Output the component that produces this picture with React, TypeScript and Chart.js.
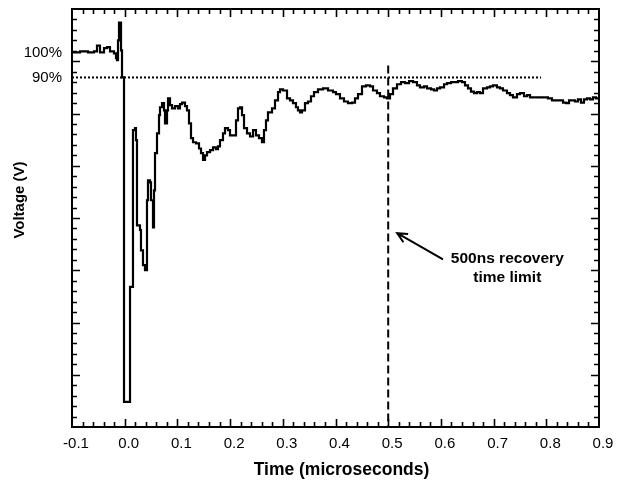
import React, { useEffect, useRef } from "react";
import { Chart, registerables } from "chart.js";

Chart.register(...registerables);

// Sampled transient response (time in microseconds, voltage in volts)
const timeUs = [
  -0.1, -0.0848, -0.0696, -0.0583, -0.0526, -0.0469, -0.0393, -0.0336, -0.0279, -0.0203,
  -0.0165, -0.0146, -0.0127, -0.0108, -0.007, -0.0051, -0.0013, 0.0101, 0.0157, 0.0195,
  0.0214, 0.0233, 0.029, 0.0309, 0.0347, 0.0385, 0.0423, 0.0442, 0.048, 0.0499,
  0.0537, 0.0556, 0.0575, 0.0613, 0.0651, 0.067, 0.0708, 0.0746, 0.0765, 0.0803,
  0.0822, 0.086, 0.0898, 0.0954, 0.1011, 0.1049, 0.1087, 0.1144, 0.1182, 0.122,
  0.1258, 0.1296, 0.1353, 0.141, 0.1448, 0.1486, 0.1524, 0.1562, 0.1619, 0.1676,
  0.1732, 0.177, 0.1808, 0.1865, 0.1903, 0.196, 0.1998, 0.2055, 0.2112, 0.215,
  0.2188, 0.2226, 0.2264, 0.2321, 0.2378, 0.2435, 0.2491, 0.2548, 0.2605, 0.2643,
  0.2681, 0.2719, 0.2795, 0.2852, 0.2909, 0.2947, 0.3004, 0.308, 0.3137, 0.3193,
  0.325, 0.3288, 0.3326, 0.3364, 0.3421, 0.3478, 0.3535, 0.3592, 0.3668, 0.3763,
  0.3858, 0.3953, 0.4009, 0.4085, 0.4161, 0.4237, 0.4313, 0.437, 0.4427, 0.4503,
  0.4579, 0.4655, 0.4712, 0.4787, 0.4844, 0.492, 0.4977, 0.5034, 0.5091, 0.5167,
  0.5243, 0.5319, 0.5395, 0.5471, 0.5546, 0.5603, 0.5679, 0.5736, 0.5812, 0.5869,
  0.5926, 0.5983, 0.6059, 0.6116, 0.6192, 0.6267, 0.6324, 0.64, 0.6457, 0.6514,
  0.6571, 0.6628, 0.6685, 0.6742, 0.6799, 0.6875, 0.6931, 0.6988, 0.7064, 0.7121,
  0.7178, 0.7254, 0.7311, 0.7368, 0.7444, 0.7501, 0.7577, 0.7634, 0.7691, 0.7785,
  0.788, 0.7975, 0.8032, 0.8108, 0.8184, 0.826, 0.8317, 0.8374, 0.8431, 0.8488,
  0.8545, 0.8601, 0.8658, 0.8715, 0.8772, 0.8829, 0.8886, 0.8943, 0.9,
];

const voltage = [
  7.17, 7.19, 7.17, 7.19, 7.3, 7.17, 7.25, 7.27, 7.19, 7.15,
  7.06, 7.02, 7.4, 7.74, 7.21, 6.69, 0.48, 2.68, 5.68, 5.72,
  5.49, 3.86, 3.77, 3.38, 3.1, 3.0, 4.34, 4.72, 4.68, 4.34,
  3.82, 4.53, 5.24, 5.62, 5.97, 6.12, 6.2, 6.06, 5.81, 6.06,
  6.29, 6.16, 6.1, 6.14, 6.1, 6.18, 6.21, 6.14, 6.06, 5.81,
  5.53, 5.45, 5.43, 5.33, 5.24, 5.11, 5.2, 5.26, 5.3, 5.35,
  5.32, 5.37, 5.49, 5.62, 5.72, 5.68, 5.58, 5.58, 5.87, 6.1,
  6.12, 5.97, 5.72, 5.62, 5.56, 5.68, 5.58, 5.53, 5.45, 5.68,
  5.87, 6.02, 6.1, 6.25, 6.41, 6.46, 6.44, 6.29, 6.25, 6.2,
  6.12, 6.06, 6.02, 6.06, 6.2, 6.23, 6.33, 6.41, 6.46, 6.48,
  6.44, 6.41, 6.37, 6.29, 6.23, 6.2, 6.21, 6.29, 6.37, 6.52,
  6.54, 6.52, 6.44, 6.39, 6.33, 6.31, 6.29, 6.37, 6.48, 6.56,
  6.6, 6.58, 6.62, 6.6, 6.54, 6.5, 6.52, 6.48, 6.46, 6.44,
  6.48, 6.5, 6.56, 6.58, 6.6, 6.6, 6.62, 6.6, 6.54, 6.48,
  6.42, 6.39, 6.41, 6.39, 6.48, 6.5, 6.52, 6.54, 6.5, 6.48,
  6.44, 6.39, 6.35, 6.31, 6.37, 6.39, 6.33, 6.35, 6.31, 6.31,
  6.31, 6.31, 6.29, 6.25, 6.25, 6.25, 6.21, 6.2, 6.25, 6.25,
  6.23, 6.27, 6.21, 6.27, 6.29, 6.27, 6.31, 6.29, 6.31,
];

// Axis ticks
const xTickValues = [-0.1, 0.0, 0.1, 0.2, 0.3, 0.4, 0.5, 0.6, 0.7, 0.8, 0.9];
const levelValues = [6.69, 7.17];
const levelLabels = ["90%", "100%"];

// Reference lines and annotation
const LEVEL_90 = 6.69;
const thresholdEndUs = 0.79;
const recoveryLimitUs = 0.5;
const recoveryLineTopV = 6.92;
const arrowTail = { x: 0.604, y: 3.21 };
const arrowHead = { x: 0.517, y: 3.71 };
const noteAnchor = { x: 0.726, y: 3.23 };
const noteLines = ["500ns recovery", "time limit"];

const FONT = "'Liberation Sans', Arial, Helvetica, sans-serif";

const framePlugin = {
  id: "frameAndNotes",
  afterDraw(chart: any) {
    const { ctx, chartArea } = chart;
    const { left, right, top, bottom } = chartArea;
    const xs = chart.scales.x;
    const ys = chart.scales.y;
    ctx.save();
    ctx.strokeStyle = "#000";
    ctx.fillStyle = "#000";

    // Box
    ctx.lineWidth = 2;
    ctx.strokeRect(left, top, right - left, bottom - top);

    // Inward tick marks on all four sides
    ctx.lineWidth = 1.6;
    ctx.beginPath();
    for (let i = 1; i < 50; i++) {
      const px = Math.round(xs.getPixelForValue(-0.1 + i * 0.02)) + 0.5;
      const len = i % 5 === 0 ? 8 : 5;
      ctx.moveTo(px, bottom);
      ctx.lineTo(px, bottom - len);
      ctx.moveTo(px, top);
      ctx.lineTo(px, top + len);
    }
    for (let i = 1; i < 40; i++) {
      const py = Math.round(ys.getPixelForValue(i * 0.2)) + 0.5;
      const len = i % 5 === 0 ? 8 : 5;
      ctx.moveTo(left, py);
      ctx.lineTo(left + len, py);
      ctx.moveTo(right, py);
      ctx.lineTo(right - len, py);
    }
    ctx.stroke();

    // Arrow pointing at the recovery limit
    const tx = xs.getPixelForValue(arrowTail.x);
    const ty = ys.getPixelForValue(arrowTail.y);
    const hx = xs.getPixelForValue(arrowHead.x);
    const hy = ys.getPixelForValue(arrowHead.y);
    const ang = Math.atan2(hy - ty, hx - tx);
    ctx.lineWidth = 2;
    ctx.beginPath();
    ctx.moveTo(tx, ty);
    ctx.lineTo(hx, hy);
    ctx.moveTo(hx - 11 * Math.cos(ang - 0.45), hy - 11 * Math.sin(ang - 0.45));
    ctx.lineTo(hx, hy);
    ctx.lineTo(hx - 11 * Math.cos(ang + 0.45), hy - 11 * Math.sin(ang + 0.45));
    ctx.stroke();

    // Annotation text
    ctx.font = `bold 15.5px ${FONT}`;
    ctx.textAlign = "center";
    ctx.textBaseline = "middle";
    const nx = xs.getPixelForValue(noteAnchor.x);
    const ny = ys.getPixelForValue(noteAnchor.y);
    noteLines.forEach((t, i) => ctx.fillText(t, nx, ny + i * 19));

    // Axis titles
    ctx.font = `bold 17.5px ${FONT}`;
    ctx.fillText("Time (microseconds)", (left + right) / 2 + 6, 470);
    ctx.save();
    ctx.translate(20, 200);
    ctx.rotate(-Math.PI / 2);
    ctx.font = `bold 15px ${FONT}`;
    ctx.fillText("Voltage (V)", 0, 0);
    ctx.restore();

    ctx.restore();
  },
};

export default function App() {
  const canvasRef = useRef<HTMLCanvasElement | null>(null);

  useEffect(() => {
    if (!canvasRef.current) return;
    const signal = timeUs.map((t, i) => ({ x: t, y: voltage[i] }));
    const chart = new Chart(canvasRef.current, {
      type: "line",
      data: {
        datasets: [
          {
            label: "Output",
            data: signal,
            borderColor: "#000",
            borderWidth: 2.2,
            pointRadius: 0,
            stepped: true,
            fill: false,
          },
          {
            label: "90%",
            data: [
              { x: -0.1, y: LEVEL_90 },
              { x: thresholdEndUs, y: LEVEL_90 },
            ],
            borderColor: "#000",
            borderWidth: 2,
            borderDash: [2, 2],
            pointRadius: 0,
            fill: false,
          },
          {
            label: "500ns",
            data: [
              { x: recoveryLimitUs, y: recoveryLineTopV },
              { x: recoveryLimitUs, y: 0 },
            ],
            borderColor: "#000",
            borderWidth: 2,
            borderDash: [8, 4],
            pointRadius: 0,
            fill: false,
          },
        ],
      },
      options: {
        animation: false,
        responsive: true,
        maintainAspectRatio: false,
        layout: { padding: { top: 9, right: 22, left: 0, bottom: 0 } },
        plugins: {
          legend: { display: false },
          tooltip: { enabled: false },
        },
        scales: {
          x: {
            type: "linear",
            min: -0.1,
            max: 0.9,
            afterBuildTicks: (s: any) => {
              s.ticks = xTickValues.map((v) => ({ value: v }));
            },
            afterFit: (s: any) => {
              s.height = 56;
              s.paddingLeft = 0;
              s.paddingRight = 0;
            },
            ticks: {
              callback: (v: any) => Number(v).toFixed(1),
              font: { family: FONT, size: 15 },
              color: "#000",
              padding: 8,
              labelOffset: 4,
              maxRotation: 0,
              autoSkip: false,
            },
            grid: { display: false, drawTicks: false },
            border: { display: false },
          },
          y: {
            type: "linear",
            min: 0,
            max: 8,
            afterBuildTicks: (s: any) => {
              s.ticks = levelValues.map((v) => ({ value: v }));
            },
            afterFit: (s: any) => {
              s.width = 72;
              s.paddingTop = 0;
              s.paddingBottom = 0;
            },
            ticks: {
              callback: (_v: any, i: number) => levelLabels[i],
              font: { family: FONT, size: 15 },
              color: "#000",
              padding: 10,
              autoSkip: false,
            },
            grid: { display: false, drawTicks: false },
            border: { display: false },
          },
        },
      },
      plugins: [framePlugin],
    });
    return () => chart.destroy();
  }, []);

  return (
    <div
      style={{
        position: "absolute",
        left: 0,
        top: 0,
        width: 621,
        height: 483,
        background: "#fff",
      }}
    >
      <canvas ref={canvasRef} />
    </div>
  );
}
